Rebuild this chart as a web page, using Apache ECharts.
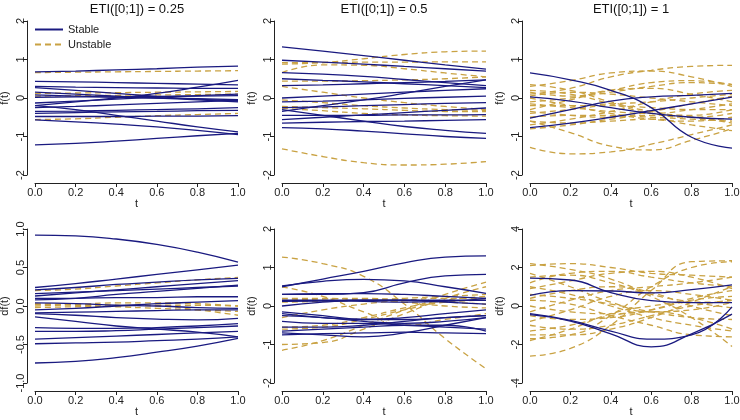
<!DOCTYPE html>
<html>
<head>
<meta charset="utf-8">
<script src="https://cdn.jsdelivr.net/npm/echarts@6/dist/echarts.min.js"></script>
<style>
  html, body { margin: 0; padding: 0; background: #fff; }
  #chart { width: 740px; height: 420px; }
</style>
</head>
<body>
<div id="chart"></div>
<script>
// sample points along t (read at the axis ticks)
const tGrid = [0, 0.2, 0.4, 0.6, 0.8, 1.0]

const titles = ['ETI([0;1]) = 0.25', 'ETI([0;1]) = 0.5', 'ETI([0;1]) = 1']

// f(t), ETI = 0.25
const f025Stable = [
  [0.68, 0.70, 0.73, 0.76, 0.80, 0.83],
  [0.43, 0.42, 0.40, 0.38, 0.36, 0.34],
  [0.27, 0.20, 0.12, 0.04, -0.03, -0.08],
  [0.15, 0.10, 0.05, 0.00, -0.05, -0.10],
  [0.08, 0.05, 0.02, 0.00, -0.02, -0.04],
  [0.02, 0.03, 0.03, 0.04, 0.05, 0.06],
  [-0.13, -0.08, -0.03, 0.02, 0.06, 0.10],
  [-0.20, -0.10, 0.00, 0.12, 0.28, 0.46],
  [-0.25, -0.22, -0.18, -0.14, -0.10, -0.06],
  [-0.20, -0.30, -0.45, -0.60, -0.75, -0.88],
  [-0.35, -0.34, -0.32, -0.30, -0.28, -0.25],
  [-0.40, -0.38, -0.36, -0.35, -0.33, -0.32],
  [-0.48, -0.48, -0.48, -0.47, -0.47, -0.46],
  [-0.57, -0.62, -0.68, -0.75, -0.84, -0.95],
  [-1.22, -1.18, -1.12, -1.05, -0.98, -0.92],
  [0.30, 0.28, 0.27, 0.26, 0.25, 0.25]
]
const f025Unstable = [
  [0.66, 0.67, 0.68, 0.69, 0.70, 0.71],
  [0.12, 0.13, 0.14, 0.15, 0.16, 0.17],
  [0.05, 0.06, 0.07, 0.08, 0.09, 0.10],
  [-0.56, -0.54, -0.50, -0.46, -0.43, -0.40]
]

// f(t), ETI = 0.5
const f05Stable = [
  [1.33, 1.22, 1.10, 0.98, 0.86, 0.75],
  [0.98, 0.93, 0.88, 0.82, 0.76, 0.70],
  [0.66, 0.62, 0.56, 0.48, 0.40, 0.32],
  [0.50, 0.46, 0.42, 0.37, 0.32, 0.27],
  [0.32, 0.34, 0.37, 0.40, 0.43, 0.47],
  [0.00, 0.05, 0.10, 0.15, 0.20, 0.24],
  [-0.10, -0.08, -0.05, -0.01, 0.02, 0.05],
  [-0.25, -0.23, -0.20, -0.17, -0.14, -0.12],
  [-0.35, -0.20, -0.05, 0.12, 0.30, 0.47],
  [-0.30, -0.45, -0.60, -0.74, -0.84, -0.92],
  [-0.45, -0.45, -0.45, -0.44, -0.44, -0.43],
  [-0.56, -0.50, -0.44, -0.38, -0.32, -0.26],
  [-0.65, -0.63, -0.61, -0.60, -0.58, -0.56],
  [-0.77, -0.80, -0.86, -0.93, -1.00, -1.05]
]
const f05Unstable = [
  [0.88, 0.92, 1.02, 1.13, 1.20, 1.22],
  [0.92, 0.92, 0.93, 0.93, 0.94, 0.94],
  [0.66, 0.86, 0.85, 0.76, 0.65, 0.55],
  [0.44, 0.44, 0.45, 0.47, 0.50, 0.55],
  [0.30, 0.15, 0.00, -0.12, -0.22, -0.30],
  [-0.05, -0.12, -0.20, -0.26, -0.30, -0.32],
  [-0.22, -0.25, -0.28, -0.32, -0.35, -0.35],
  [-0.27, -0.33, -0.40, -0.44, -0.46, -0.47],
  [-1.32, -1.52, -1.68, -1.74, -1.72, -1.65]
]

// f(t), ETI = 1
const f1Stable = [
  [0.65, 0.47, 0.20, -0.25, -1.02, -1.30],
  [0.03, -0.08, -0.25, -0.40, -0.50, -0.55],
  [-0.52, -0.30, -0.08, 0.03, 0.07, 0.12],
  [-0.77, -0.65, -0.50, -0.33, -0.15, 0.02]
]
const f1Unstable = [
  [-1.28, -1.45, -1.40, -1.20, -0.95, -0.70],
  [-0.60, -0.90, -1.25, -1.35, -1.10, -0.80],
  [0.10, 0.25, 0.55, 0.72, 0.82, 0.85],
  [0.30, 0.45, 0.65, 0.70, 0.55, 0.30],
  [0.15, 0.05, 0.20, 0.40, 0.45, 0.35],
  [-0.10, 0.00, 0.15, 0.30, 0.40, 0.35],
  [-0.30, -0.05, 0.20, 0.25, 0.10, -0.10],
  [0.20, 0.10, -0.15, -0.40, -0.50, -0.40],
  [-0.20, -0.20, -0.15, -0.10, 0.00, 0.10],
  [-0.40, -0.30, -0.20, -0.25, -0.30, -0.30],
  [-0.50, -0.45, -0.45, -0.50, -0.55, -0.60],
  [-0.70, -0.55, -0.35, -0.10, 0.10, 0.20],
  [0.00, -0.20, -0.40, -0.55, -0.60, -0.50],
  [-0.80, -0.70, -0.55, -0.45, -0.50, -0.65],
  [0.35, 0.20, -0.10, -0.35, -0.45, -0.30],
  [-0.15, -0.25, -0.35, -0.40, -0.30, -0.15],
  [-0.60, -0.65, -0.60, -0.55, -0.70, -0.85],
  [0.05, 0.15, 0.10, 0.00, -0.10, -0.20],
  [-0.35, -0.45, -0.50, -0.35, -0.15, 0.05]
]

// df(t), ETI = 0.25
const df025Stable = [
  [0.92, 0.91, 0.87, 0.80, 0.70, 0.57],
  [0.24, 0.29, 0.35, 0.41, 0.47, 0.53],
  [0.21, 0.24, 0.28, 0.31, 0.34, 0.36],
  [0.16, 0.18, 0.20, 0.22, 0.24, 0.26],
  [0.13, 0.17, 0.21, 0.25, 0.29, 0.33],
  [0.10, 0.10, 0.11, 0.11, 0.12, 0.12],
  [0.08, 0.10, 0.15, 0.19, 0.23, 0.27],
  [0.04, 0.03, 0.01, 0.00, -0.02, -0.03],
  [-0.05, -0.03, 0.00, 0.03, 0.05, 0.07],
  [-0.09, -0.08, -0.07, -0.06, -0.05, -0.05],
  [-0.10, -0.12, -0.15, -0.17, -0.18, -0.16],
  [-0.14, -0.20, -0.26, -0.30, -0.34, -0.40],
  [-0.28, -0.29, -0.29, -0.28, -0.26, -0.23],
  [-0.33, -0.33, -0.32, -0.30, -0.28, -0.26],
  [-0.43, -0.41, -0.39, -0.37, -0.35, -0.33],
  [-0.49, -0.48, -0.47, -0.45, -0.43, -0.40],
  [-0.74, -0.72, -0.67, -0.60, -0.52, -0.42]
]
const df025Unstable = [
  [0.20, 0.22, 0.26, 0.30, 0.34, 0.37],
  [0.03, 0.02, 0.01, 0.00, -0.05, -0.12],
  [0.00, 0.02, 0.04, 0.04, 0.03, 0.00],
  [0.02, 0.01, -0.01, -0.03, -0.05, -0.07],
  [-0.02, -0.01, 0.00, 0.01, 0.01, 0.00]
]

// df(t), ETI = 0.5
const df05Stable = [
  [0.50, 0.70, 0.90, 1.12, 1.27, 1.30],
  [0.52, 0.64, 0.69, 0.65, 0.50, 0.33],
  [0.30, 0.30, 0.35, 0.60, 0.78, 0.82],
  [0.30, 0.32, 0.32, 0.30, 0.25, 0.20],
  [0.15, 0.15, 0.15, 0.15, 0.15, 0.15],
  [0.12, 0.13, 0.12, 0.10, 0.12, 0.20],
  [0.00, 0.10, 0.15, 0.15, 0.10, 0.05],
  [-0.15, -0.25, -0.35, -0.35, -0.30, -0.25],
  [-0.20, -0.30, -0.35, -0.30, -0.20, -0.10],
  [-0.25, -0.30, -0.40, -0.45, -0.40, -0.30],
  [-0.40, -0.45, -0.45, -0.50, -0.55, -0.60],
  [-0.55, -0.55, -0.50, -0.40, -0.30, -0.25],
  [-0.65, -0.60, -0.55, -0.50, -0.50, -0.65],
  [-0.75, -0.72, -0.70, -0.68, -0.70, -0.72],
  [-0.70, -0.75, -0.80, -0.70, -0.50, -0.30]
]
const df05Unstable = [
  [1.27, 1.10, 0.77, 0.05, -0.85, -1.63],
  [0.50, 0.25, -0.15, -0.50, -0.35, -0.20],
  [-1.15, -0.90, -0.50, -0.10, 0.30, 0.62],
  [-1.00, -0.95, -0.60, -0.20, 0.20, 0.50],
  [-0.55, -0.50, -0.30, -0.05, 0.15, 0.25],
  [-0.60, -0.55, -0.35, -0.10, 0.10, 0.15],
  [-0.30, -0.10, 0.05, 0.15, 0.20, 0.20],
  [0.15, 0.18, 0.20, 0.15, 0.10, 0.05],
  [0.20, 0.20, 0.15, 0.10, 0.00, -0.05],
  [0.10, 0.12, 0.15, 0.20, 0.25, 0.30]
]

// df(t), ETI = 1
const df1Stable = [
  [1.45, 1.35, 0.70, 0.28, 0.18, 0.18],
  [0.55, 0.80, 0.78, 0.68, 0.85, 1.10],
  [-0.40, -0.75, -1.30, -1.72, -1.50, -0.05],
  [-0.45, -0.78, -1.45, -2.12, -1.45, -0.42]
]
const df1Unstable = [
  [2.20, 1.90, 1.40, 0.50, -0.60, -2.10],
  [2.10, 2.20, 2.00, 1.70, 1.60, 1.50],
  [-2.60, -2.20, -1.00, 0.80, 2.30, 2.35],
  [-1.70, -1.50, -0.50, 1.00, 2.00, 2.30],
  [1.20, 1.70, 1.80, 1.50, 1.20, 1.00],
  [0.90, 1.30, 1.70, 1.80, 1.50, 0.90],
  [-1.50, -1.50, -1.20, -0.60, 0.20, 1.00],
  [-1.30, -1.00, -0.50, -0.30, -0.60, -1.20],
  [1.70, 1.00, 0.20, -0.30, -0.20, 0.20],
  [0.30, 0.10, -0.50, -1.00, -1.50, -1.60],
  [-0.80, -0.20, 0.50, 0.80, 0.60, 0.30],
  [-0.50, -0.70, -0.60, -0.20, 0.40, 0.80],
  [0.60, 0.40, 0.10, -0.30, -0.60, -0.70],
  [-0.30, 0.30, 0.80, 1.00, 1.20, 1.50],
  [1.00, 0.60, 0.00, -0.60, -1.00, -1.30],
  [-1.00, -1.20, -1.00, -0.50, 0.00, 0.30],
  [0.00, -0.30, -0.40, -0.20, 0.30, 0.50],
  [1.50, 1.60, 1.20, 0.60, 0.20, -0.10],
  [-1.80, -1.20, -0.40, 0.00, 0.20, 0.20],
  [0.40, 0.80, 1.00, 0.70, 0.00, -0.50]
]

const navy = '#1a1a80'
const gold = '#c9a243'
const font = 'Liberation Sans, Arial, sans-serif'

// panel layout: [left, top, width, height]
const panels = [
  { box: [35, 21, 203, 154], yName: 'f(t)', min: -2, max: 2, step: 1, dec: 0, stable: f025Stable, unstable: f025Unstable },
  { box: [282, 21, 204, 154], yName: 'f(t)', min: -2, max: 2, step: 1, dec: 0, stable: f05Stable, unstable: f05Unstable },
  { box: [530, 21, 202, 154], yName: 'f(t)', min: -2, max: 2, step: 1, dec: 0, stable: f1Stable, unstable: f1Unstable },
  { box: [35, 229, 203, 154], yName: 'df(t)', min: -1, max: 1, step: 0.5, dec: 1, stable: df025Stable, unstable: df025Unstable },
  { box: [282, 229, 204, 154], yName: 'df(t)', min: -2, max: 2, step: 1, dec: 0, stable: df05Stable, unstable: df05Unstable },
  { box: [530, 229, 202, 154], yName: 'df(t)', min: -4, max: 4, step: 2, dec: 0, stable: df1Stable, unstable: df1Unstable }
]
const titleCenters = [137, 384, 631]

const toPoints = (vals) => tGrid.map((t, i) => [t, vals[i]])

const grid = []
const xAxis = []
const yAxis = []
const series = []

panels.forEach((p, k) => {
  grid.push({ left: p.box[0], top: p.box[1], width: p.box[2], height: p.box[3], outerBoundsMode: 'none', containLabel: false })
  xAxis.push({
    type: 'value', gridIndex: k, min: 0, max: 1, interval: 0.2, offset: 8,
    name: 't', nameLocation: 'middle', nameGap: 15,
    nameTextStyle: { fontFamily: font, fontSize: 11, color: '#222' },
    axisLine: { show: true, onZero: false, lineStyle: { color: '#222', width: 1 } },
    axisTick: { show: true, length: 4, lineStyle: { color: '#222' } },
    axisLabel: { fontFamily: font, fontSize: 11, color: '#222', margin: 4, showMinLabel: true, showMaxLabel: true,
      formatter: (v) => v.toFixed(1) },
    splitLine: { show: false }
  })
  yAxis.push({
    type: 'value', gridIndex: k, min: p.min, max: p.max, interval: p.step, offset: 8,
    name: p.yName, nameLocation: 'middle', nameGap: 17,
    nameTextStyle: { fontFamily: font, fontSize: 11, color: '#222' },
    axisLine: { show: true, onZero: false, lineStyle: { color: '#222', width: 1 } },
    axisTick: { show: true, length: 4, lineStyle: { color: '#222' } },
    axisLabel: { fontFamily: font, fontSize: 11, color: '#222', margin: 1, rotate: 90, showMinLabel: true, showMaxLabel: true,
      formatter: (v) => v.toFixed(p.dec) },
    splitLine: { show: false }
  })
  p.unstable.forEach((vals) => {
    series.push({
      name: 'Unstable', type: 'line', xAxisIndex: k, yAxisIndex: k, data: toPoints(vals),
      smooth: true, showSymbol: false, symbol: 'none',
      lineStyle: { color: gold, width: 1.3, type: [6, 4] }, itemStyle: { color: gold }
    })
  })
  p.stable.forEach((vals) => {
    series.push({
      name: 'Stable', type: 'line', xAxisIndex: k, yAxisIndex: k, data: toPoints(vals),
      smooth: true, showSymbol: false, symbol: 'none',
      lineStyle: { color: navy, width: 1.3 }, itemStyle: { color: navy }
    })
  })
})

const chart = echarts.init(document.getElementById('chart'))
chart.setOption({
  animation: false,
  backgroundColor: '#fff',
  graphic: titles.map((txt, i) => ({
    type: 'text',
    x: titleCenters[i],
    y: 9,
    style: { text: txt, textAlign: 'center', textVerticalAlign: 'middle', fontFamily: font, fontSize: 13, fill: '#111' }
  })),
  legend: {
    data: ['Stable', 'Unstable'],
    orient: 'vertical', left: 29, top: 19,
    itemWidth: 28, itemHeight: 10, itemGap: 4,
    itemStyle: { opacity: 0 },
    textStyle: { fontFamily: font, fontSize: 11, color: '#222' }
  },
  grid: grid,
  xAxis: xAxis,
  yAxis: yAxis,
  series: series
})
</script>
</body>
</html>
